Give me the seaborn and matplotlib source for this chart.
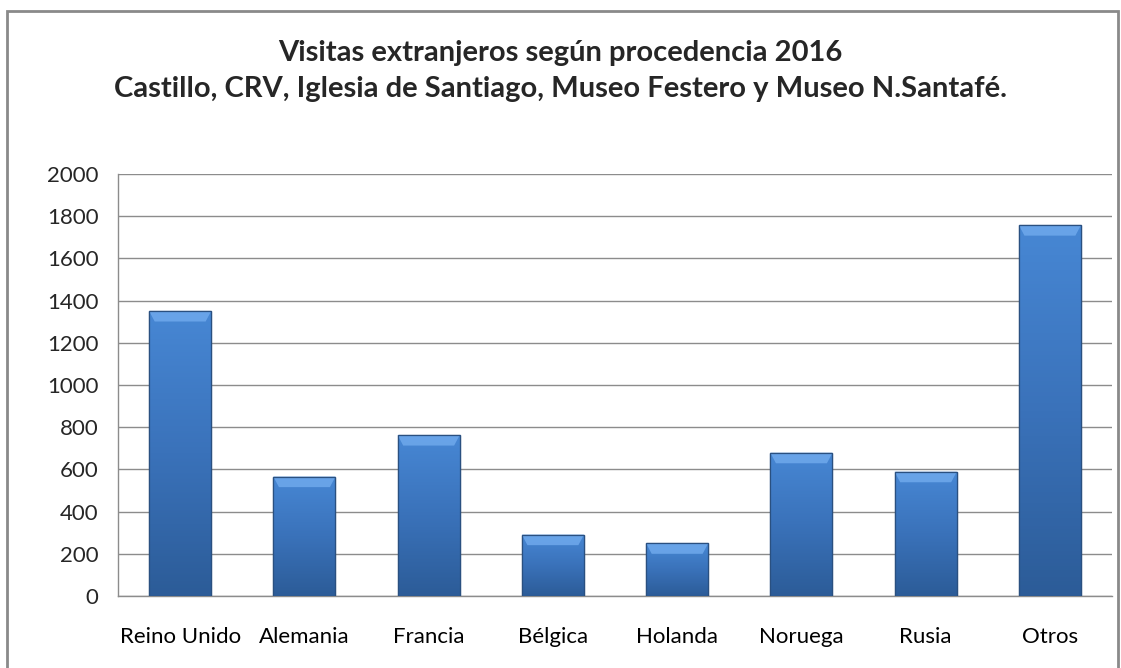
import numpy as np
import pandas as pd
import matplotlib
matplotlib.use("Agg")
import matplotlib.pyplot as plt
import seaborn as sns
from matplotlib.colors import LinearSegmentedColormap
from matplotlib.patches import Rectangle, Polygon

# data
paises = ["Reino Unido", "Alemania", "Francia", "Bélgica", "Holanda", "Noruega", "Rusia", "Otros"]
visitas = [1351, 566, 763, 291, 250, 679, 589, 1758]

titulo = "Visitas extranjeros según procedencia 2016\nCastillo, CRV, Iglesia de Santiago, Museo Festero y Museo N.Santafé."

df = pd.DataFrame({"pais": paises, "visitas": visitas})

sns.set_style("white")
plt.rcParams["font.family"] = ["Lato", "DejaVu Sans"]

fig = plt.figure(figsize=(11.21, 6.68), dpi=100)
ax = fig.add_axes([0.1053, 0.1078, 0.8867, 0.6317])

sns.barplot(data=df, x="pais", y="visitas", color="#3d74bd", width=0.5,
            edgecolor="#2a5080", linewidth=0.9, ax=ax, zorder=3)

# excel-like gradient fill on each bar
grad = LinearSegmentedColormap.from_list("g", ["#2c5c98", "#3a72ba", "#4787d4"])
for p in list(ax.patches):
    x0, y0 = p.get_x(), p.get_y()
    w, h = p.get_width(), p.get_height()
    img = ax.imshow(np.linspace(0, 1, 100).reshape(-1, 1), cmap=grad, origin="lower",
                    extent=[x0, x0 + w, y0, y0 + h], aspect="auto", zorder=3.5)
    img.set_clip_path(p)
    # bevel on top of the bar
    bh = 50
    inset = 0.09 * w
    top = y0 + h
    ax.add_patch(Polygon([(x0, top), (x0 + w, top), (x0 + w - inset, top - bh), (x0 + inset, top - bh)],
                         closed=True, facecolor="#6fa9ec", edgecolor="none", alpha=0.85, zorder=3.6))
    ax.add_patch(Rectangle((x0, y0), w, h, fill=False, edgecolor="#2a5080", linewidth=0.9, zorder=3.7))

ax.set_xlim(-0.5, len(paises) - 0.5)
ax.set_ylim(0, 2000)
ax.set_yticks(range(0, 2001, 200))
ax.set_xlabel("")
ax.set_ylabel("")

ax.grid(axis="y", color="#8c8c8c", linewidth=1, zorder=0)
ax.set_axisbelow(True)
for s in ["top", "right"]:
    ax.spines[s].set_visible(False)
for s in ["left", "bottom"]:
    ax.spines[s].set_color("#8c8c8c")
    ax.spines[s].set_linewidth(1)

ax.set_xticks(np.arange(len(paises)))
ax.set_xticklabels(paises)
ax.set_xticks(np.arange(-0.5, len(paises)), minor=True)
ax.tick_params(axis="x", which="major", length=0, labelsize=16, pad=22, colors="#000000")
ax.tick_params(axis="x", which="minor", length=6, width=1, color="#8c8c8c", direction="out")
ax.tick_params(axis="y", length=6, width=1, color="#8c8c8c", labelsize=16, pad=8, direction="out")

fig.text(0.5, 0.894, titulo, ha="center", va="center", fontsize=21, fontweight="bold",
         linespacing=1.5)

# outer frame of the chart
fig.patches.append(Rectangle((0.006, -0.1), 0.991, 1.084, transform=fig.transFigure,
                             fill=False, edgecolor="#8a8a8a", linewidth=2))

plt.savefig("out.png", dpi=100)
plt.close()
